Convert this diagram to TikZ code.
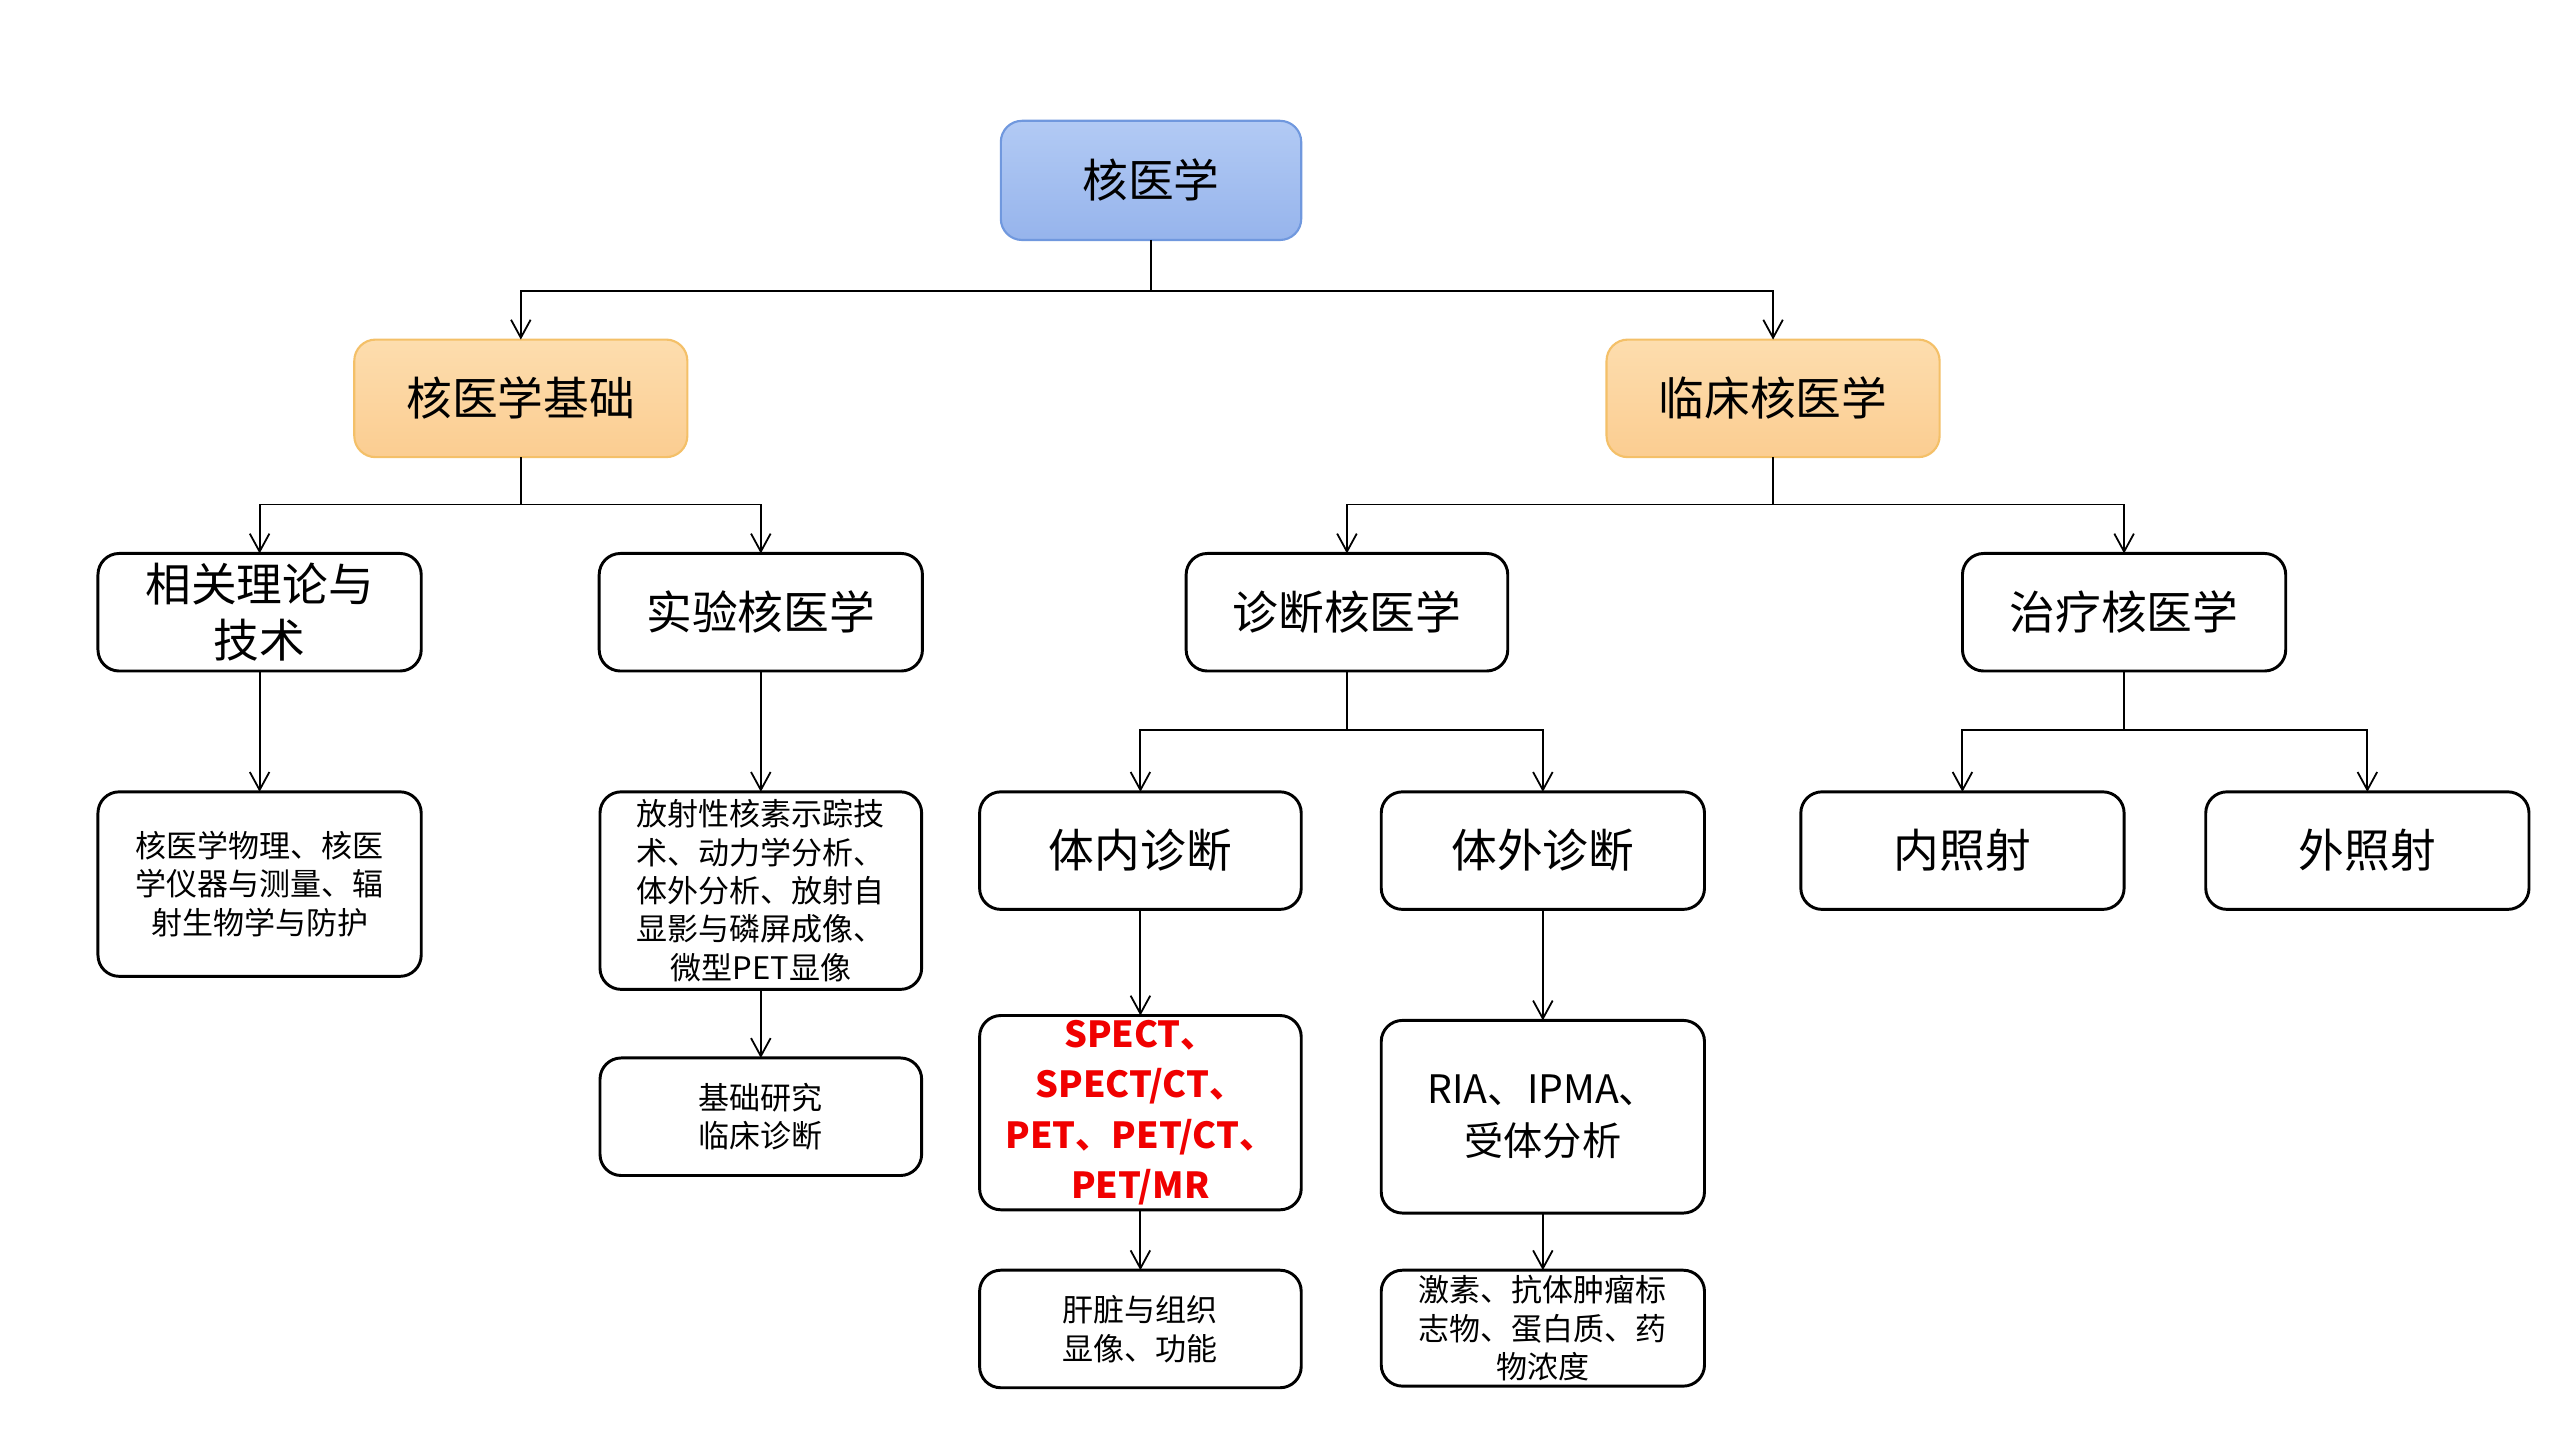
\documentclass[tikz,border=0pt]{standalone}
\usepackage{fontspec}
\setmainfont{Noto Sans CJK SC}
\usetikzlibrary{arrows.meta}
\definecolor{blueTop}{RGB}{178,202,244}
\definecolor{blueBot}{RGB}{150,180,236}
\definecolor{blueLine}{RGB}{112,152,222}
\definecolor{orTop}{RGB}{253,221,174}
\definecolor{orBot}{RGB}{251,205,145}
\definecolor{orLine}{RGB}{244,192,104}
\definecolor{redTxt}{RGB}{240,0,0}
\tikzset{
  box/.style={draw=black, line width=1.8pt, rounded corners=13pt, inner sep=0pt, outer sep=0pt, align=center, fill=white},
  bigtxt/.style={font=\fontsize{28}{34}\selectfont},
  smalltxt/.style={font=\fontsize{19}{23.5}\selectfont},
  redbig/.style={font=\bfseries\fontsize{22}{31}\selectfont, text=redTxt},
  midtxt/.style={font=\fontsize{24}{32}\selectfont},
  rootbox/.style={box, draw=blueLine, line width=1.3pt, top color=blueTop, bottom color=blueBot},
  orbox/.style={box, draw=orLine, line width=1.3pt, top color=orTop, bottom color=orBot},
  conn/.style={line width=1.2pt, draw=black},
  arr/.style={conn, -{Straight Barb[length=11pt,width=12pt,line width=1.1pt]}},
}
\begin{document}
\begin{tikzpicture}[x=1pt,y=-1pt]
\useasboundingbox (0,0) rectangle (1568,882);
\fill[white] (0,0) rectangle (1568,882);
% level 1
\node[rootbox, bigtxt, minimum width=184pt, minimum height=73pt] (root) at (705,110.5) {核医学};
% level 2
\node[orbox, bigtxt, minimum width=204pt, minimum height=72pt] (jc) at (319,244) {核医学基础};
\node[orbox, bigtxt, minimum width=204pt, minimum height=72pt] (lc) at (1086,244) {临床核医学};
% level 3
\node[box, bigtxt, minimum width=198pt, minimum height=72pt] (xg) at (159,375) {相关理论与\\技术};
\node[box, bigtxt, minimum width=198pt, minimum height=72pt] (sy) at (466,375) {实验核医学};
\node[box, bigtxt, minimum width=197pt, minimum height=72pt] (zd) at (825,375) {诊断核医学};
\node[box, bigtxt, minimum width=198pt, minimum height=72pt] (zl) at (1301,375) {治疗核医学};
% level 4
\node[box, smalltxt, minimum width=198pt, minimum height=113pt] (wl) at (159,541.5) {核医学物理、核医\\学仪器与测量、辐\\射生物学与防护};
\node[box, smalltxt, minimum width=197pt, minimum height=121pt] (fs) at (466,545.5) {放射性核素示踪技\\术、动力学分析、\\体外分析、放射自\\显影与磷屏成像、\\微型PET显像};
\node[box, bigtxt, minimum width=197pt, minimum height=72pt] (tn) at (698.5,521) {体内诊断};
\node[box, bigtxt, minimum width=198pt, minimum height=72pt] (tw) at (945,521) {体外诊断};
\node[box, bigtxt, minimum width=198pt, minimum height=72pt] (nz) at (1202,521) {内照射};
\node[box, bigtxt, minimum width=198pt, minimum height=72pt] (wz) at (1450,521) {外照射};
% level 5
\node[box, smalltxt, minimum width=197pt, minimum height=72pt] (yj) at (466,684) {基础研究\\临床诊断};
\node[box, redbig, minimum width=197pt, minimum height=119pt] (sp) at (698.5,681.5) {SPECT、\\SPECT/CT、\\PET、PET/CT、\\PET/MR};
\node[box, midtxt, minimum width=198pt, minimum height=118pt] (ria) at (945,684) {RIA、IPMA、\\受体分析};
% level 6
\node[box, smalltxt, minimum width=197pt, minimum height=72pt] (gz) at (698.5,814) {肝脏与组织\\显像、功能};
\node[box, smalltxt, minimum width=198pt, minimum height=71pt] (js) at (945,813.5) {激素、抗体肿瘤标\\志物、蛋白质、药\\物浓度};
% branch points
\coordinate (b1) at (705,178);
\coordinate (b2) at (319,309);
\coordinate (b3) at (1086,309);
\coordinate (b4) at (825,447);
\coordinate (b5) at (1301,447);
% connectors
\draw[conn] (root.south) -- (b1);
\draw[arr] (b1) -| (jc.north);
\draw[arr] (b1) -| (lc.north);
\draw[conn] (jc.south) -- (b2);
\draw[arr] (b2) -| (xg.north);
\draw[arr] (b2) -| (sy.north);
\draw[conn] (lc.south) -- (b3);
\draw[arr] (b3) -| (zd.north);
\draw[arr] (b3) -| (zl.north);
\draw[conn] (zd.south) -- (b4);
\draw[arr] (b4) -| (tn.north);
\draw[arr] (b4) -| (tw.north);
\draw[conn] (zl.south) -- (b5);
\draw[arr] (b5) -| (nz.north);
\draw[arr] (b5) -| (wz.north);
\draw[arr] (xg.south) -- (wl.north);
\draw[arr] (sy.south) -- (fs.north);
\draw[arr] (fs.south) -- (yj.north);
\draw[arr] (tn.south) -- (sp.north);
\draw[arr] (tw.south) -- (ria.north);
\draw[arr] (sp.south) -- (gz.north);
\draw[arr] (ria.south) -- (js.north);
\end{tikzpicture}
\end{document}
